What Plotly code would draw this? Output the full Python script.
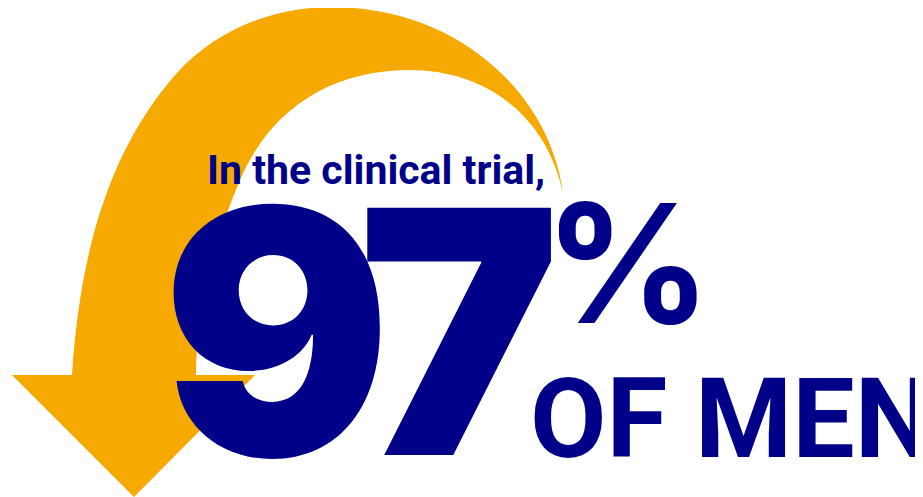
import plotly.graph_objects as go

# Data
share_value = [97]
share_suffix = ["%"]
lead_text = ["In the clinical trial,"]
subject_text = ["OF MEN"]

NAVY = "#000088"
ORANGE = "#F6A900"

W, H = 923, 497
OFF = 8  # page body margin, so data units equal screen pixels

fig = go.Figure()

# Curved arrow (decorative)
arrow_path = (
    "M 72 375 C 80 250, 110 150, 175 75 C 220 25, 280 7, 333 7 "
    "C 460 8, 550 95, 563 193 "
    "C 545 110, 480 70, 410 70 C 330 70, 270 110, 240 180 "
    "C 210 250, 196 320, 196 375 "
    "L 255 375 L 134 497 L 12 375 Z"
)
fig.add_shape(type="path", path=arrow_path, xref="x", yref="y",
              fillcolor=ORANGE, line=dict(width=0), layer="below")

fig.add_annotation(x=205, y=170, text=lead_text[0], showarrow=False,
                   xanchor="left", yanchor="middle",
                   font=dict(family="Roboto", size=41, color=NAVY, weight=700))

# big number, one glyph per annotation so the spacing can follow the reference
digits = list(str(share_value[0]))
digit_centers = [276, 459]
for ch, cx in zip(digits, digit_centers):
    fig.add_annotation(x=cx, y=331, text=ch, showarrow=False,
                       xanchor="center", yanchor="middle",
                       font=dict(family="Inter", size=340, color=NAVY, weight=900))

fig.add_annotation(x=628, y=263, text=share_suffix[0], showarrow=False,
                   xanchor="center", yanchor="middle",
                   font=dict(family="Inter", size=165, color=NAVY, weight=700))
fig.add_annotation(x=528, y=419, text=subject_text[0], showarrow=False,
                   xanchor="left", yanchor="middle",
                   font=dict(family="Roboto", size=111, color=NAVY, weight=700))

fig.update_xaxes(range=[OFF, W + OFF], visible=False, fixedrange=True)
fig.update_yaxes(range=[H + OFF, OFF], visible=False, fixedrange=True)
fig.update_layout(width=W, height=H, margin=dict(l=0, r=0, t=0, b=0),
                  paper_bgcolor="white", plot_bgcolor="white", showlegend=False)

fig.write_html("out.html")
